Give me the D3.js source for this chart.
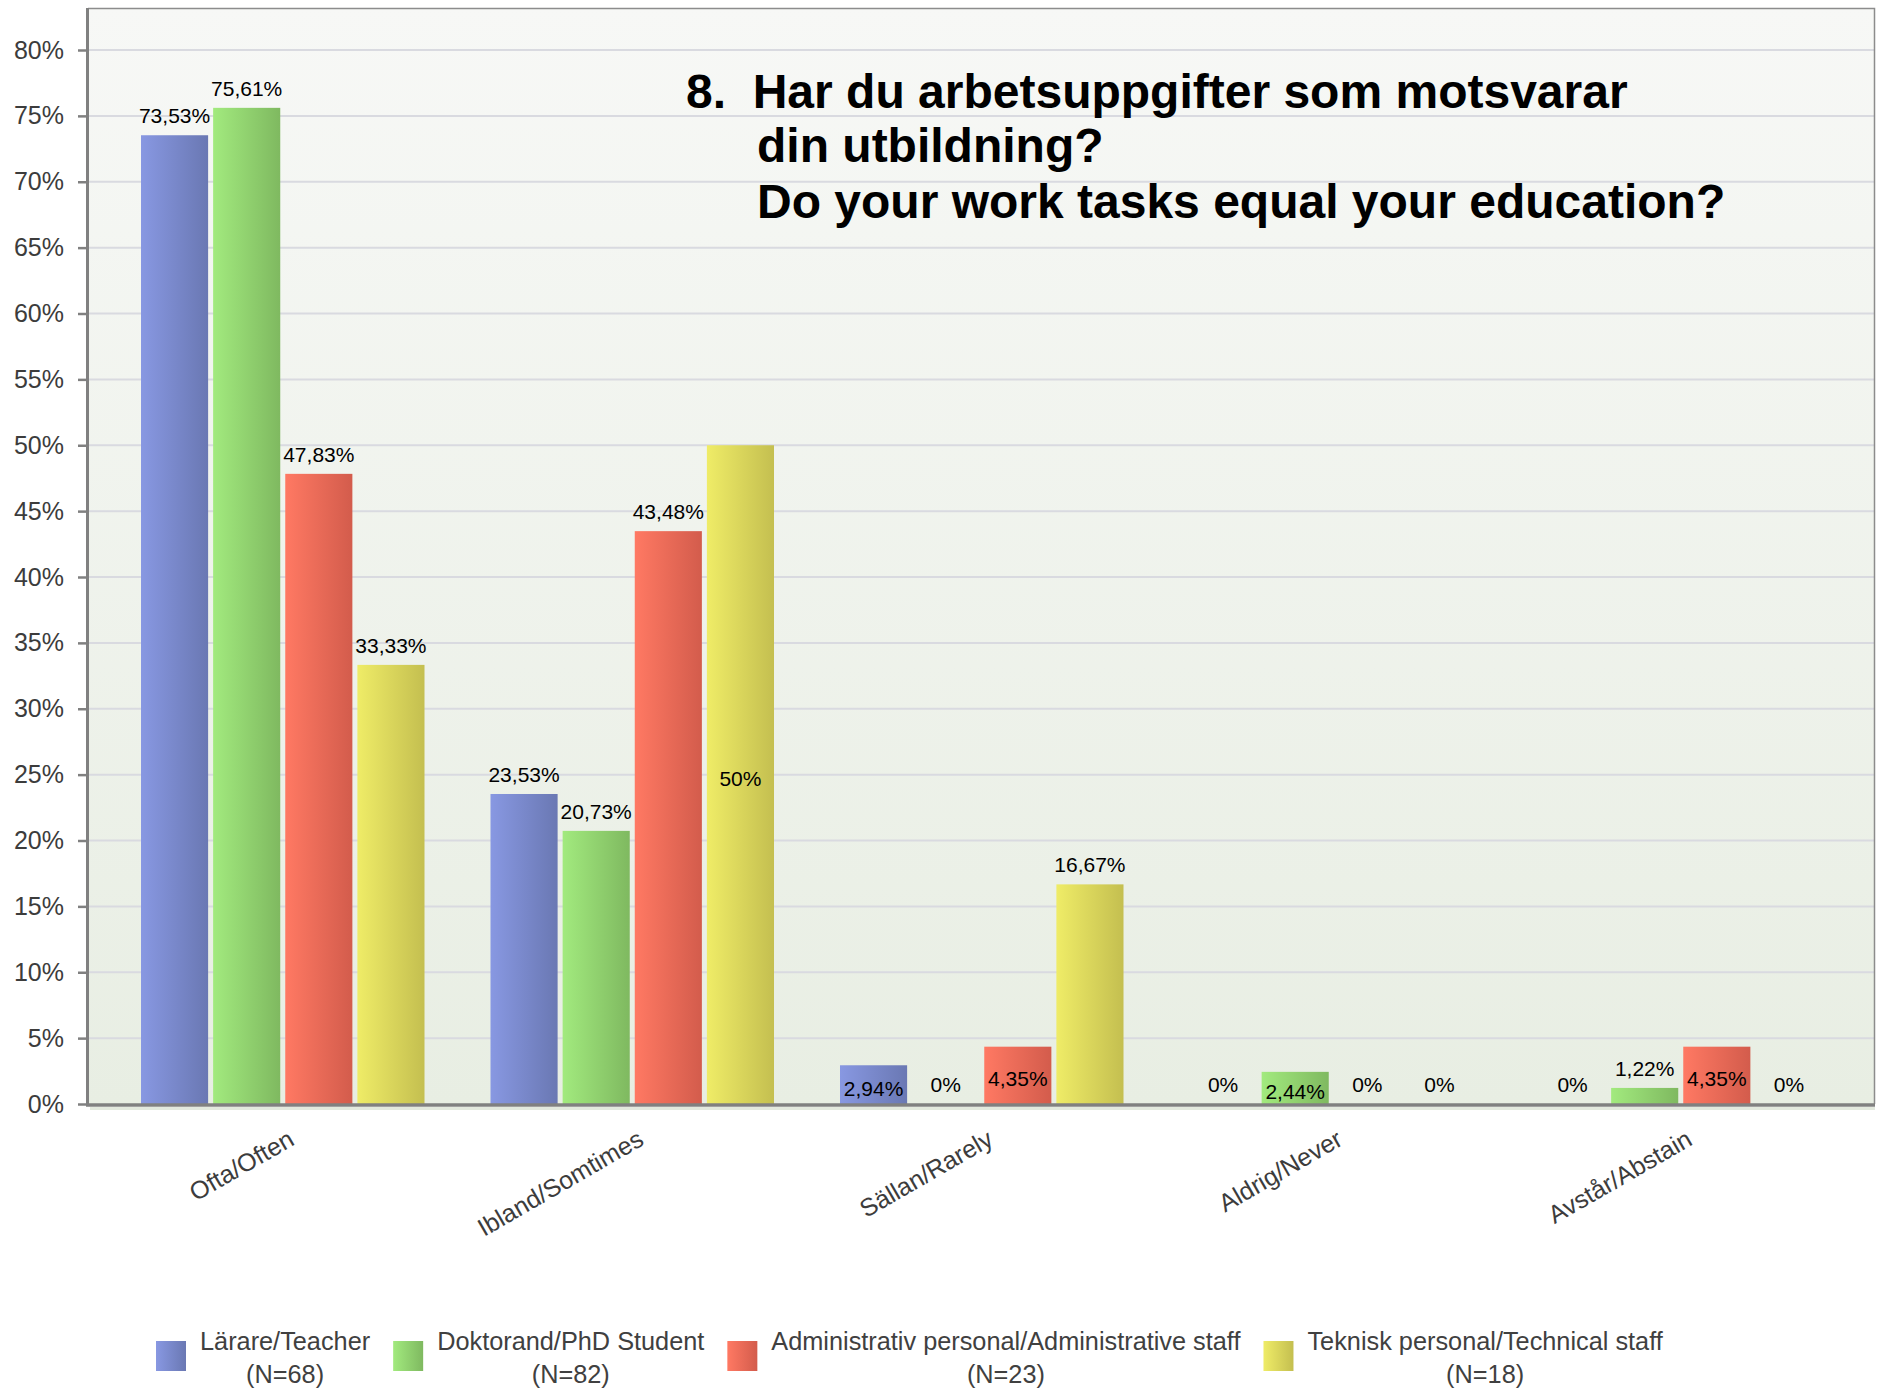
<!DOCTYPE html>
<html>
<head>
<meta charset="utf-8">
<script src="https://cdn.jsdelivr.net/npm/d3@7"></script>
<style>
  html, body { margin: 0; padding: 0; background: #ffffff; }
  svg { display: block; font-family: "Liberation Sans", Arial, Helvetica, sans-serif; }
</style>
</head>
<body>
<svg id="chart" width="1877" height="1388"></svg>
<script>
// ---------- data ----------
const categories = ["Ofta/Often", "Ibland/Somtimes", "Sällan/Rarely", "Aldrig/Never", "Avstår/Abstain"];
const seriesNames = ["Lärare/Teacher", "Doktorand/PhD Student", "Administrativ personal/Administrative staff", "Teknisk personal/Technical staff"];
const seriesN = ["(N=68)", "(N=82)", "(N=23)", "(N=18)"];
const teacherValues = [73.53, 23.53, 2.94, 0, 0];
const phdValues = [75.61, 20.73, 0, 2.44, 1.22];
const adminValues = [47.83, 43.48, 4.35, 0, 4.35];
const techValues = [33.33, 50, 16.67, 0, 0];
const yTickValues = [0, 5, 10, 15, 20, 25, 30, 35, 40, 45, 50, 55, 60, 65, 70, 75, 80];
const titleLines = ["8.  Har du arbetsuppgifter som motsvarar", "din utbildning?", "Do your work tasks equal your education?"];
// labels drawn inside the bar in the original: [category index, series index]
const insideLabels = [[1, 3], [2, 0], [2, 2], [3, 1], [4, 2]];

const seriesValues = [teacherValues, phdValues, adminValues, techValues];
const seriesColors = [
  ["#8898e2", "#6a78b3"],
  ["#a2ea7e", "#7fb960"],
  ["#ff7963", "#d35c4c"],
  ["#efec67", "#c4bf50"]
];

// ---------- layout ----------
const svg = d3.select("#chart");
const plot = { left: 88, right: 1874, top: 8, bottom: 1104 };

const y = d3.scaleLinear().domain([0, 80]).range([plot.bottom, 50]);
const x0 = d3.scaleBand().domain(categories).range([108, 1855.5]).paddingInner(0).paddingOuter(0);
const x1 = d3.scaleBand().domain(d3.range(seriesNames.length))
  .range([33, x0.bandwidth() - 33]).paddingInner(5 / 72).paddingOuter(0);

const defs = svg.append("defs");
const bg = defs.append("linearGradient").attr("id", "bg").attr("x1", 0).attr("y1", 0).attr("x2", 0).attr("y2", 1);
bg.append("stop").attr("offset", "0%").attr("stop-color", "#f7f8f6");
bg.append("stop").attr("offset", "100%").attr("stop-color", "#e8eee3");
seriesColors.forEach((c, i) => {
  const g = defs.append("linearGradient").attr("id", "grad" + i).attr("x1", 0).attr("y1", 0).attr("x2", 1).attr("y2", 0);
  g.append("stop").attr("offset", "0%").attr("stop-color", c[0]);
  g.append("stop").attr("offset", "100%").attr("stop-color", c[1]);
});

// plot background
svg.append("rect")
  .attr("x", plot.left).attr("y", plot.top)
  .attr("width", plot.right - plot.left).attr("height", plot.bottom - plot.top)
  .attr("fill", "url(#bg)");

// gridlines
svg.append("g").selectAll("line").data(yTickValues.filter(d => d > 0)).join("line")
  .attr("x1", plot.left).attr("x2", plot.right)
  .attr("y1", d => y(d)).attr("y2", d => y(d))
  .attr("stroke", "#d9dae0").attr("stroke-width", 2);

// top / right border
svg.append("path")
  .attr("d", `M${plot.left},${plot.top + 0.5}H${plot.right + 0.5}V${plot.bottom}`)
  .attr("fill", "none").attr("stroke", "#8c8c8c").attr("stroke-width", 1.5);

// y axis
const yAxis = d3.axisLeft(y).tickValues(yTickValues).tickSize(10).tickPadding(14).tickFormat(d => d + "%");
const yg = svg.append("g").attr("transform", `translate(${plot.left},0)`).call(yAxis);
yg.select(".domain").remove();
yg.selectAll(".tick line").attr("stroke", "#808080").attr("stroke-width", 2.5);
yg.selectAll(".tick text").attr("fill", "#3c3c3c").style("font-size", "25px")
  .attr("font-family", "Liberation Sans, Arial, sans-serif");
svg.append("line").attr("x1", plot.left - 0.5).attr("x2", plot.left - 0.5)
  .attr("y1", plot.top).attr("y2", plot.bottom + 2)
  .attr("stroke", "#808080").attr("stroke-width", 3);

// bars
const cells = [];
categories.forEach((c, ci) => seriesValues.forEach((vals, si) => cells.push({ c, ci, si, v: vals[ci] })));

svg.append("g").selectAll("rect").data(cells).join("rect")
  .attr("x", d => x0(d.c) + x1(d.si))
  .attr("y", d => y(d.v))
  .attr("width", x1.bandwidth())
  .attr("height", d => y(0) - y(d.v))
  .attr("fill", d => "url(#grad" + d.si + ")");

// bottom axis line
svg.append("line").attr("x1", plot.left - 2).attr("x2", plot.right + 1)
  .attr("y1", plot.bottom + 1).attr("y2", plot.bottom + 1)
  .attr("stroke", "#808080").attr("stroke-width", 3.5);
svg.append("line").attr("x1", plot.left + 2).attr("x2", plot.right + 1)
  .attr("y1", plot.bottom + 4.5).attr("y2", plot.bottom + 4.5)
  .attr("stroke", "#e3e9de").attr("stroke-width", 3);

// value labels
const fmt = v => (Number.isInteger(v) ? String(v) : v.toFixed(2).replace(".", ",")) + "%";
const isInside = d => insideLabels.some(p => p[0] === d.ci && p[1] === d.si);
svg.append("g").selectAll("text").data(cells).join("text")
  .attr("x", d => x0(d.c) + x1(d.si) + x1.bandwidth() / 2)
  .attr("y", d => isInside(d) ? (y(d.v) + y(0)) / 2 + 11 : y(d.v) - 12)
  .attr("text-anchor", "middle")
  .style("font-size", "21px")
  .attr("fill", "#000")
  .text(d => fmt(d.v));

// category labels
svg.append("g").selectAll("text").data(categories).join("text")
  .attr("transform", d => `translate(${x0(d) + x0.bandwidth() / 2 + 13},${plot.bottom + 40}) rotate(-30)`)
  .attr("text-anchor", "end")
  .style("font-size", "25px")
  .attr("fill", "#3c3c3c")
  .text(d => d);

// title
const title = svg.append("g");
const titleX = [686, 757, 757];
const titleY = [108, 162, 218];
titleLines.forEach((t, i) => {
  title.append("text")
    .attr("x", titleX[i]).attr("y", titleY[i])
    .style("font-size", "48px").style("font-weight", "bold")
    .style("white-space", "pre").attr("xml:space", "preserve")
    .attr("fill", "#000")
    .text(t);
});

// legend
const legend = svg.append("g");
let lx = 156;
seriesNames.forEach((name, i) => {
  legend.append("rect").attr("x", lx).attr("y", 1341).attr("width", 30).attr("height", 30)
    .attr("fill", "url(#grad" + i + ")");
  const tx = lx + 44;
  const t1 = legend.append("text").attr("x", tx).attr("y", 1350)
    .style("font-size", "25.3px").attr("fill", "#404040").text(name);
  const w = t1.node().getComputedTextLength();
  legend.append("text").attr("x", tx + w / 2).attr("y", 1383)
    .attr("text-anchor", "middle")
    .style("font-size", "25.3px").attr("fill", "#404040").text(seriesN[i]);
  lx = tx + w + 23;
});
</script>
</body>
</html>
